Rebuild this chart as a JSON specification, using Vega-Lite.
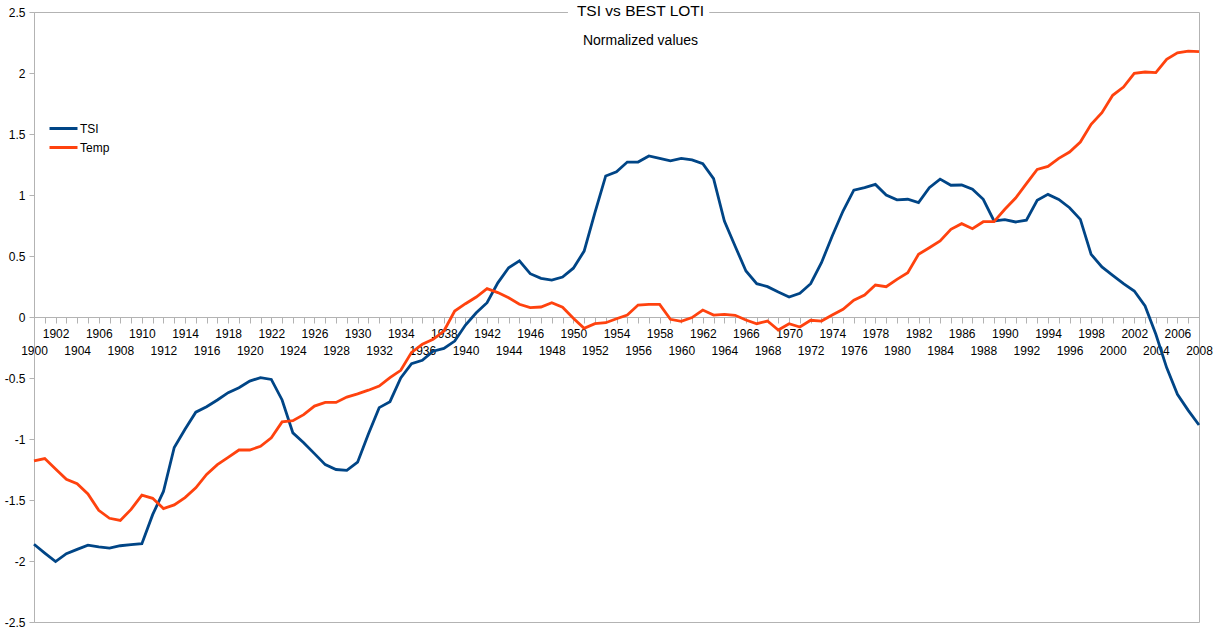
{
  "$schema": "https://vega.github.io/schema/vega-lite/v6.json",
  "width": 1165,
  "height": 610,
  "autosize": "none",
  "padding": {"left": 34, "top": 12, "right": 17, "bottom": 22},
  "background": "white",
  "title": {
    "text": "TSI vs BEST LOTI",
    "subtitle": "Normalized values",
    "anchor": "middle",
    "dx": 24,
    "offset": -43,
    "fontSize": 15.5,
    "fontWeight": "normal",
    "subtitleFontSize": 14,
    "subtitlePadding": 14,
    "color": "#000000",
    "subtitleColor": "#000000",
    "font": "Liberation Sans",
    "subtitleFont": "Liberation Sans"
  },
  "resolve": {"axis": {"x": "independent"}},
  "layer": [
    {
      "data": {"values": [{}]},
      "mark": {"type": "rect", "fill": "white", "stroke": null},
      "encoding": {
        "x": {
          "datum": 1949.5,
          "type": "quantitative",
          "scale": {"domain": [1900, 2008], "nice": false, "zero": false},
          "axis": {
            "title": null,
            "orient": "bottom",
            "offset": -305,
            "grid": false,
            "domain": false,
            "values": [1902,1906,1910,1914,1918,1922,1926,1930,1934,1938,1942,1946,1950,1954,1958,1962,1966,1970,1974,1978,1982,1986,1990,1994,1998,2002,2006],
            "labelExpr": "'' + datum.value",
            "labelOverlap": false,
            "labelFlush": false,
            "labelBound": false,
            "labelFont": "Liberation Sans",
            "labelFontSize": 12,
            "labelColor": "#000000",
            "labelPadding": 5,
            "tickSize": 6,
            "tickOpacity": 0
          }
        },
        "x2": {"datum": 1962.6},
        "y": {"datum": 2.44, "type": "quantitative", "scale": {"domain": [-2.5, 2.5], "nice": false, "zero": false}},
        "y2": {"datum": 2.56}
      }
    },
    {
      "data": {
        "values": [
          {"year": 1900, "TSI": -1.863, "Temp": -1.18},
          {"year": 1901, "TSI": -1.935, "Temp": -1.16},
          {"year": 1902, "TSI": -2.005, "Temp": -1.245},
          {"year": 1903, "TSI": -1.94, "Temp": -1.33},
          {"year": 1904, "TSI": -1.905, "Temp": -1.366},
          {"year": 1905, "TSI": -1.87, "Temp": -1.45},
          {"year": 1906, "TSI": -1.885, "Temp": -1.585},
          {"year": 1907, "TSI": -1.895, "Temp": -1.65},
          {"year": 1908, "TSI": -1.875, "Temp": -1.667},
          {"year": 1909, "TSI": -1.865, "Temp": -1.577},
          {"year": 1910, "TSI": -1.858, "Temp": -1.46},
          {"year": 1911, "TSI": -1.62, "Temp": -1.486},
          {"year": 1912, "TSI": -1.43, "Temp": -1.57},
          {"year": 1913, "TSI": -1.07, "Temp": -1.54},
          {"year": 1914, "TSI": -0.92, "Temp": -1.48},
          {"year": 1915, "TSI": -0.78, "Temp": -1.4},
          {"year": 1916, "TSI": -0.735, "Temp": -1.29},
          {"year": 1917, "TSI": -0.68, "Temp": -1.21},
          {"year": 1918, "TSI": -0.62, "Temp": -1.15},
          {"year": 1919, "TSI": -0.58, "Temp": -1.09},
          {"year": 1920, "TSI": -0.525, "Temp": -1.09},
          {"year": 1921, "TSI": -0.497, "Temp": -1.06},
          {"year": 1922, "TSI": -0.512, "Temp": -0.99},
          {"year": 1923, "TSI": -0.68, "Temp": -0.86},
          {"year": 1924, "TSI": -0.95, "Temp": -0.85},
          {"year": 1925, "TSI": -1.03, "Temp": -0.8},
          {"year": 1926, "TSI": -1.12, "Temp": -0.73},
          {"year": 1927, "TSI": -1.21, "Temp": -0.7},
          {"year": 1928, "TSI": -1.25, "Temp": -0.7},
          {"year": 1929, "TSI": -1.257, "Temp": -0.656},
          {"year": 1930, "TSI": -1.19, "Temp": -0.63},
          {"year": 1931, "TSI": -0.96, "Temp": -0.6},
          {"year": 1932, "TSI": -0.743, "Temp": -0.566},
          {"year": 1933, "TSI": -0.694, "Temp": -0.497},
          {"year": 1934, "TSI": -0.5, "Temp": -0.437},
          {"year": 1935, "TSI": -0.383, "Temp": -0.29},
          {"year": 1936, "TSI": -0.355, "Temp": -0.224},
          {"year": 1937, "TSI": -0.28, "Temp": -0.183},
          {"year": 1938, "TSI": -0.257, "Temp": -0.115},
          {"year": 1939, "TSI": -0.197, "Temp": 0.049},
          {"year": 1940, "TSI": -0.066, "Temp": 0.109},
          {"year": 1941, "TSI": 0.035, "Temp": 0.164},
          {"year": 1942, "TSI": 0.117, "Temp": 0.232},
          {"year": 1943, "TSI": 0.28, "Temp": 0.2},
          {"year": 1944, "TSI": 0.404, "Temp": 0.158},
          {"year": 1945, "TSI": 0.46, "Temp": 0.104},
          {"year": 1946, "TSI": 0.355, "Temp": 0.077},
          {"year": 1947, "TSI": 0.317, "Temp": 0.082},
          {"year": 1948, "TSI": 0.303, "Temp": 0.117},
          {"year": 1949, "TSI": 0.328, "Temp": 0.08},
          {"year": 1950, "TSI": 0.4, "Temp": -0.01},
          {"year": 1951, "TSI": 0.54, "Temp": -0.093},
          {"year": 1952, "TSI": 0.855, "Temp": -0.055},
          {"year": 1953, "TSI": 1.156, "Temp": -0.047},
          {"year": 1954, "TSI": 1.19, "Temp": -0.014},
          {"year": 1955, "TSI": 1.27, "Temp": 0.016},
          {"year": 1956, "TSI": 1.27, "Temp": 0.098},
          {"year": 1957, "TSI": 1.32, "Temp": 0.104},
          {"year": 1958, "TSI": 1.3, "Temp": 0.104},
          {"year": 1959, "TSI": 1.28, "Temp": -0.019},
          {"year": 1960, "TSI": 1.3, "Temp": -0.035},
          {"year": 1961, "TSI": 1.287, "Temp": -0.005},
          {"year": 1962, "TSI": 1.257, "Temp": 0.057},
          {"year": 1963, "TSI": 1.134, "Temp": 0.016},
          {"year": 1964, "TSI": 0.787, "Temp": 0.022},
          {"year": 1965, "TSI": 0.58, "Temp": 0.014},
          {"year": 1966, "TSI": 0.377, "Temp": -0.025},
          {"year": 1967, "TSI": 0.273, "Temp": -0.055},
          {"year": 1968, "TSI": 0.249, "Temp": -0.033},
          {"year": 1969, "TSI": 0.205, "Temp": -0.107},
          {"year": 1970, "TSI": 0.164, "Temp": -0.055},
          {"year": 1971, "TSI": 0.194, "Temp": -0.082},
          {"year": 1972, "TSI": 0.273, "Temp": -0.027},
          {"year": 1973, "TSI": 0.445, "Temp": -0.033},
          {"year": 1974, "TSI": 0.664, "Temp": 0.016},
          {"year": 1975, "TSI": 0.869, "Temp": 0.063},
          {"year": 1976, "TSI": 1.04, "Temp": 0.137},
          {"year": 1977, "TSI": 1.06, "Temp": 0.18},
          {"year": 1978, "TSI": 1.087, "Temp": 0.262},
          {"year": 1979, "TSI": 1.0, "Temp": 0.248},
          {"year": 1980, "TSI": 0.96, "Temp": 0.309},
          {"year": 1981, "TSI": 0.965, "Temp": 0.363},
          {"year": 1982, "TSI": 0.937, "Temp": 0.514},
          {"year": 1983, "TSI": 1.06, "Temp": 0.568},
          {"year": 1984, "TSI": 1.13, "Temp": 0.623},
          {"year": 1985, "TSI": 1.08, "Temp": 0.719},
          {"year": 1986, "TSI": 1.082, "Temp": 0.765},
          {"year": 1987, "TSI": 1.047, "Temp": 0.724},
          {"year": 1988, "TSI": 0.965, "Temp": 0.781},
          {"year": 1989, "TSI": 0.787, "Temp": 0.781},
          {"year": 1990, "TSI": 0.798, "Temp": 0.883},
          {"year": 1991, "TSI": 0.779, "Temp": 0.975},
          {"year": 1992, "TSI": 0.793, "Temp": 1.093},
          {"year": 1993, "TSI": 0.956, "Temp": 1.21},
          {"year": 1994, "TSI": 1.005, "Temp": 1.234},
          {"year": 1995, "TSI": 0.964, "Temp": 1.3},
          {"year": 1996, "TSI": 0.896, "Temp": 1.352},
          {"year": 1997, "TSI": 0.8, "Temp": 1.434},
          {"year": 1998, "TSI": 0.514, "Temp": 1.579},
          {"year": 1999, "TSI": 0.41, "Temp": 1.675},
          {"year": 2000, "TSI": 0.342, "Temp": 1.817},
          {"year": 2001, "TSI": 0.273, "Temp": 1.885},
          {"year": 2002, "TSI": 0.213, "Temp": 1.997},
          {"year": 2003, "TSI": 0.09, "Temp": 2.008},
          {"year": 2004, "TSI": -0.142, "Temp": 2.003},
          {"year": 2005, "TSI": -0.415, "Temp": 2.112},
          {"year": 2006, "TSI": -0.634, "Temp": 2.166},
          {"year": 2007, "TSI": -0.765, "Temp": 2.18},
          {"year": 2008, "TSI": -0.885, "Temp": 2.175}
        ]
      },
      "transform": [{"fold": ["TSI", "Temp"], "as": ["series", "value"]}],
      "mark": {"type": "line", "strokeWidth": 2.8},
      "encoding": {
        "x": {
          "field": "year",
          "type": "quantitative",
          "scale": {"domain": [1900, 2008], "nice": false, "zero": false},
          "axis": {
            "title": null,
            "orient": "bottom",
            "offset": -305,
            "grid": false,
            "values": [1900,1901,1902,1903,1904,1905,1906,1907,1908,1909,1910,1911,1912,1913,1914,1915,1916,1917,1918,1919,1920,1921,1922,1923,1924,1925,1926,1927,1928,1929,1930,1931,1932,1933,1934,1935,1936,1937,1938,1939,1940,1941,1942,1943,1944,1945,1946,1947,1948,1949,1950,1951,1952,1953,1954,1955,1956,1957,1958,1959,1960,1961,1962,1963,1964,1965,1966,1967,1968,1969,1970,1971,1972,1973,1974,1975,1976,1977,1978,1979,1980,1981,1982,1983,1984,1985,1986,1987,1988,1989,1990,1991,1992,1993,1994,1995,1996,1997,1998,1999,2000,2001,2002,2003,2004,2005,2006,2007,2008],
            "labelExpr": "datum.value % 4 == 0 ? '' + datum.value : ''",
            "labelOverlap": false,
            "labelFlush": false,
            "labelBound": false,
            "labelFont": "Liberation Sans",
            "labelFontSize": 12,
            "labelColor": "#000000",
            "labelPadding": 22,
            "tickSize": 6,
            "tickColor": "#b3b3b3",
            "domainColor": "#b3b3b3"
          }
        },
        "y": {
          "field": "value",
          "type": "quantitative",
          "scale": {"domain": [-2.5, 2.5], "nice": false, "zero": false},
          "axis": {
            "title": null,
            "values": [-2.5, -2, -1.5, -1, -0.5, 0, 0.5, 1, 1.5, 2, 2.5],
            "labelExpr": "'' + datum.value",
            "labelFont": "Liberation Sans",
            "labelFontSize": 12,
            "labelColor": "#000000",
            "labelPadding": 4,
            "tickSize": 5,
            "tickColor": "#b3b3b3",
            "domainColor": "#b3b3b3",
            "gridColor": "#b3b3b3",
            "labelOverlap": false
          }
        },
        "color": {
          "field": "series",
          "type": "nominal",
          "scale": {"domain": ["TSI", "Temp"], "range": ["#004586", "#ff420e"]},
          "legend": {
            "title": null,
            "orient": "none",
            "legendX": 17,
            "legendY": 104,
            "padding": 4,
            "fillColor": "white",
            "symbolType": "M-2,0H2",
            "symbolSize": 196,
            "symbolStrokeWidth": 3,
            "labelOffset": 8,
            "labelFont": "Liberation Sans",
            "labelFontSize": 12,
            "labelColor": "#000000",
            "rowPadding": 4
          }
        }
      }
    }
  ],
  "config": {
    "view": {"stroke": "#b3b3b3"},
    "font": "Liberation Sans"
  }
}
